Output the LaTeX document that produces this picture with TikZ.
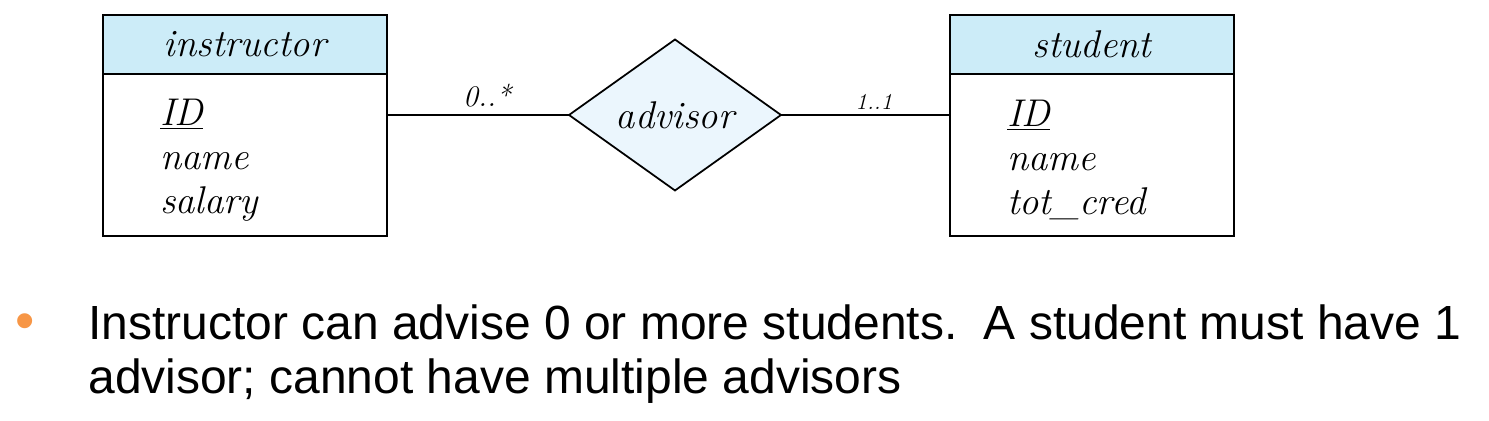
\documentclass[tikz,border=0pt]{standalone}
\usepackage{fontspec}
\usepackage{xcolor}
\usepackage{tikz}
\usetikzlibrary{positioning,shapes.geometric}
\newfontfamily\bulletfont{Liberation Sans}
\definecolor{headblue}{RGB}{204,236,248}
\definecolor{relblue}{RGB}{235,246,253}
\definecolor{bulletorange}{RGB}{247,150,70}

\begin{document}
\begin{tikzpicture}[x=0.02cm, y=-0.02cm,
    ent/.style={draw, line width=1pt, fill=headblue,
       minimum width=5.68cm, minimum height=1.18cm,
       inner sep=0, outer sep=0,
       font=\fontsize{22}{25}\selectfont\itshape},
    attr/.style={draw, line width=1pt, fill=white,
       text width=3.4cm, inner xsep=1.14cm, inner ysep=0,
       minimum height=3.24cm, outer sep=0, align=left,
       font=\fontsize{22}{25}\selectfont\itshape},
    rel/.style={diamond, draw, line width=1pt, fill=relblue,
       minimum width=4.24cm, minimum height=3.02cm, aspect=1.4,
       inner sep=0, outer sep=0,
       font=\fontsize{22}{25}\selectfont\itshape},
    conn/.style={line width=1pt},
    card/.style={above, inner sep=4pt, font=\fontsize{17}{17}\selectfont\itshape},
    cardsmall/.style={above, inner sep=2.5pt, font=\fontsize{13}{13}\selectfont\itshape},
    bullettext/.style={inner sep=0, font=\bulletfont\fontsize{27.3}{31}\selectfont\frenchspacing}
  ]
  \useasboundingbox (0,0) rectangle (1489,421);

  % entities
  \node [ent] (I) at (245,44.5) {instructor};
  \node [attr, below=0pt of I] (IA) {\rule{0pt}{21pt}\underline{ID}\\name\\salary};
  \node [ent] (S) at (1092,44.5) {student};
  \node [attr, below=0pt of S] (SA) {\rule{0pt}{21pt}\underline{ID}\\name\\tot\_cred};

  % relationship
  \node [rel] (A) at (675,115) {advisor};
  \draw [conn] (IA.east |- A.west) -- node[card, pos=0.55] (C1) {0..*} (A.west);
  \draw [conn] (A.east) -- node[cardsmall, pos=0.55] (C2) {1..1} (A.east -| SA.west);

  % bullet
  \node [bullettext, anchor=base west, text=bulletorange, scale=1.15] (B) at (15,340) {•};
  \node [bullettext, anchor=base west] (T1) at (88,340)
        {Instructor can advise 0 or more students.\ \ A student must have 1};
  \node [bullettext, anchor=base west] (T2) at (88,394)
        {advisor; cannot have multiple advisors};
\end{tikzpicture}
\end{document}
